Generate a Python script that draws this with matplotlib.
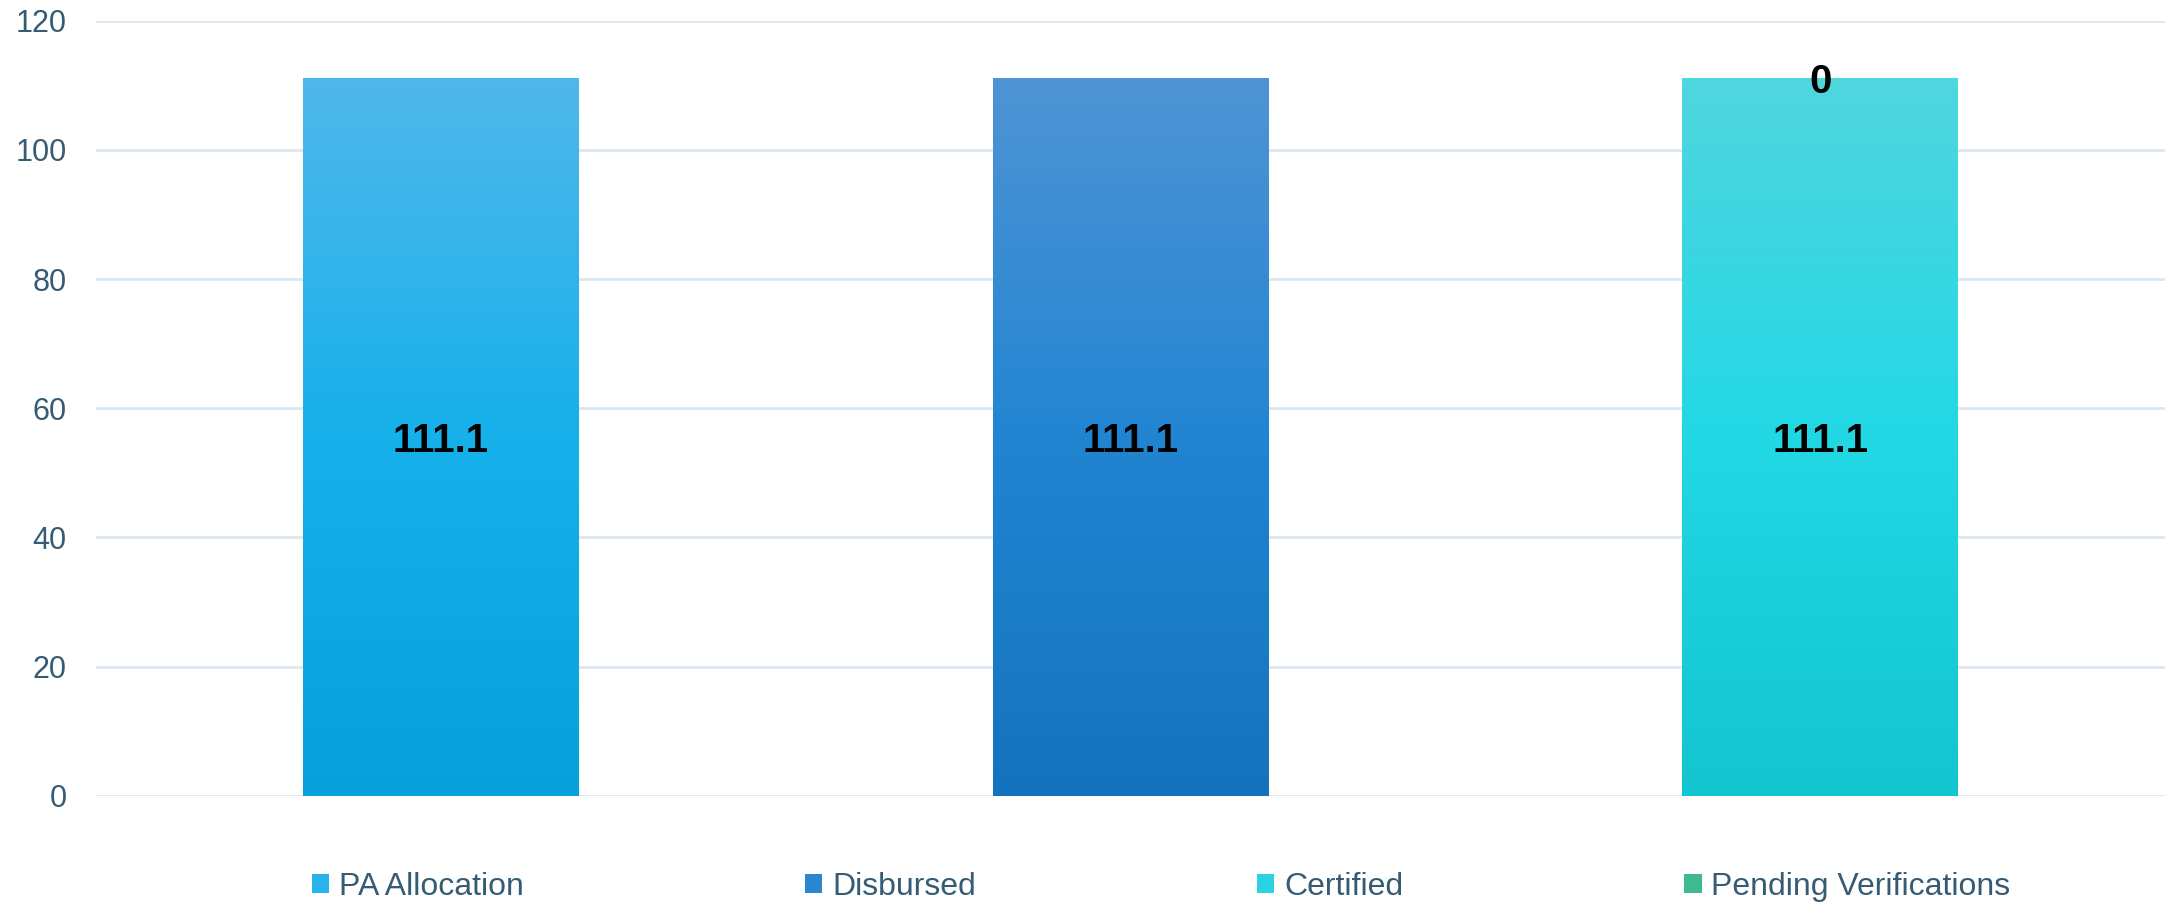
import numpy as np
import matplotlib
matplotlib.use("Agg")
import matplotlib.pyplot as plt
from matplotlib.colors import LinearSegmentedColormap
from matplotlib.patches import Patch

# ---- data ----
series = ["PA Allocation", "Disbursed", "Certified", "Pending Verifications"]
values = [111.1, 111.1, 111.1, 0]
slots = [0, 1, 2, 2]            # Pending Verifications stacks on Certified
yticks = [0, 20, 40, 60, 80, 100, 120]

# gradient colours (top, middle, bottom)
grad = {
    "PA Allocation": ["#50B8EA", "#16B0EB", "#06A0DB"],
    "Disbursed": ["#4F94D4", "#2285D2", "#1473BE"],
    "Certified": ["#50D6DF", "#22D8E5", "#12C5CF"],
    "Pending Verifications": ["#4FC79C", "#3BBA8E", "#2BAE84"],
}
legend_colors = ["#2AB2EA", "#2A86CF", "#2AD3DF", "#3DBA8E"]

plt.rcParams["font.family"] = ["Liberation Sans", "DejaVu Sans"]
W, H = 2165, 905
fig = plt.figure(figsize=(W / 100, H / 100), dpi=100)
ax = fig.add_axes([96 / W, 1 - 795.7 / H, (W - 96) / W, (795.7 - 20.7) / H])

bar_w = 0.4
ax.set_xlim(-0.5, 2.5)
ax.set_ylim(0, 120)

bottoms = {}
for name, v, s in zip(series, values, slots):
    b = bottoms.get(s, 0.0)
    rect = ax.bar(s, v, width=bar_w, bottom=b, color="none", edgecolor="none", zorder=3)[0]
    if v > 0:
        cmap = LinearSegmentedColormap.from_list(name, grad[name][::-1])
        g = np.linspace(0, 1, 256).reshape(-1, 1)
        x0 = rect.get_x()
        ax.imshow(g, extent=[x0, x0 + bar_w, b, b + v], origin="lower",
                  aspect="auto", cmap=cmap, zorder=3, interpolation="bicubic")
    ax.annotate(f"{v:g}", (s, b + v / 2), xytext=(0, -10.8), textcoords="offset points",
                ha="center", va="baseline", fontsize=29, fontweight="bold",
                color="black", zorder=5)
    bottoms[s] = b + v

ax.set_xlim(-0.5, 2.5)
ax.set_ylim(0, 120)
ax.set_yticks(yticks)
ax.set_xticks([])
ax.grid(axis="y", color="#DCE7F1", linewidth=2, zorder=0)
ax.set_axisbelow(True)
for sp in ax.spines.values():
    sp.set_visible(False)
ax.tick_params(axis="y", length=0, pad=21, labelsize=22, labelcolor="#355B75")

handles = [Patch(facecolor=c, edgecolor="none") for c in legend_colors]
fig.legend(handles, series, loc="center", bbox_to_anchor=(1161 / W, 1 - 887 / H),
           ncol=4, frameon=False, fontsize=23, labelcolor="#355B75",
           handlelength=0.55, handleheight=0.55, handletextpad=0.3,
           columnspacing=8.8, borderpad=0, borderaxespad=0)

fig.savefig("out.png", dpi=100, facecolor="white")
